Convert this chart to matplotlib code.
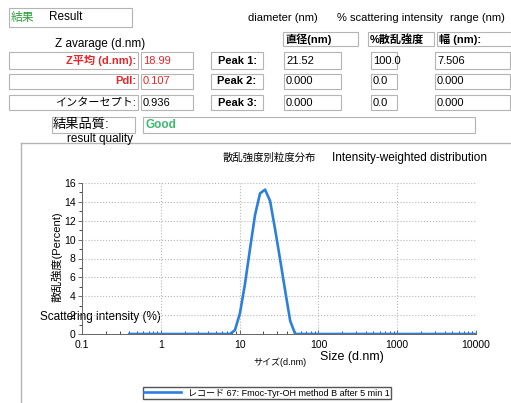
'''
Recreates a DLS size-distribution report (intensity-weighted).
'''

import matplotlib
matplotlib.use('Agg')
from matplotlib import pyplot as plt
from matplotlib.patches import Rectangle
from matplotlib.ticker import LogLocator, MultipleLocator, FixedLocator

###############
#  CONSTANTS  #
###############

FONTS = ['Liberation Sans', 'Noto Sans CJK JP', 'DejaVu Sans']
W, H = 511, 403
RED = '#e8262a'
GREEN_GOOD = '#3cba6e'
GREEN_TITLE = '#2a9d3a'
BOX_EDGE = '#b4b4b4'
LINE_BLUE = '#2b80dd'

# data
sizes = [0.4, 7.531, 8.721, 10.1, 11.7, 13.54, 15.69, 18.17, 21.04,
         24.36, 28.21, 32.67, 37.84, 43.82, 50.75, 10000]
intensity = [0.0, 0.0, 0.4, 2.2, 5.3, 9.0, 12.6, 14.9, 15.3,
             14.1, 11.1, 7.9, 4.6, 1.4, 0.0, 0.0]

x_ticks = [0.1, 1, 10, 100, 1000, 10000]
x_tick_labels = ['0.1', '1', '10', '100', '1000', '10000']
y_ticks = [0, 2, 4, 6, 8, 10, 12, 14, 16]

row_labels = ['Z平均 (d.nm):', 'PdI:', 'インターセプト:']
row_values = ['18.99', '0.107', '0.936']
peak_labels = ['Peak 1:', 'Peak 2:', 'Peak 3:']
peak_diameter = ['21.52', '0.000', '0.000']
peak_intensity = ['100.0', '0.0', '0.0']
peak_width = ['7.506', '0.000', '0.000']
legend_label = 'レコード 67: Fmoc-Tyr-OH method B after 5 min 1'

plt.rcParams['font.family'] = FONTS


###############
#   UTILS     #
###############

def box(ax, x0, y0, x1, y1):
    ax.add_patch(Rectangle((x0, y0), x1 - x0, y1 - y0, facecolor='white',
                           edgecolor=BOX_EDGE, lw=0.8))


def txt(ax, x, y, s, size=8, **kw):
    ax.text(x, y, s, fontsize=size, va='center', **kw)


fig = plt.figure(figsize=(W / 100, H / 100), dpi=100)
bg = fig.add_axes([0, 0, 1, 1])
bg.set_xlim(0, W)
bg.set_ylim(H, 0)
bg.axis('off')

# header
box(bg, 9, 8, 132, 27)
txt(bg, 11, 17.5, '結果', size=8.5, color=GREEN_TITLE)
txt(bg, 49, 17.5, 'Result', size=8.5)
txt(bg, 248, 18, 'diameter (nm)')
txt(bg, 337, 18, '% scattering intensity')
txt(bg, 450, 18, 'range (nm)')
txt(bg, 55, 44, 'Z avarage (d.nm)', size=8.5)

# column headers
for x0, x1, s in [(283, 358, '直径(nm)'), (368, 434, '%散乱強度'), (437, 511, '幅 (nm):')]:
    box(bg, x0, 32, x1, 46)
    txt(bg, x0 + 2, 39.5, s, fontweight='bold')

# rows
rows_y = [(52, 69), (74, 89), (95, 110)]
for i, (y0, y1) in enumerate(rows_y):
    yc = (y0 + y1) / 2
    colour = RED if i < 2 else 'black'
    weight = 'bold' if i < 2 else 'normal'
    box(bg, 9, y0, 138, y1)
    txt(bg, 136, yc, row_labels[i], ha='right', color=colour, fontweight=weight)
    box(bg, 141, y0, 193, y1)
    txt(bg, 143, yc, row_values[i], color=colour)
    box(bg, 211, y0, 263, y1)
    txt(bg, 237, yc, peak_labels[i], ha='center', fontweight='bold')
    box(bg, 284, y0, 341, y1)
    txt(bg, 286, yc, peak_diameter[i])
    box(bg, 371, y0, 397, y1)
    txt(bg, 373, yc, peak_intensity[i])
    box(bg, 435, y0, 510, y1)
    txt(bg, 437, yc, peak_width[i])

# result quality
box(bg, 52, 117, 135, 133)
txt(bg, 53, 125, '結果品質:', size=9.5)
box(bg, 143, 117, 475, 133)
txt(bg, 145, 124.5, 'Good', size=8.5, color=GREEN_GOOD, fontweight='bold')
txt(bg, 67, 139, 'result quality', size=8.5)

# chart panel frame
bg.plot([21, 21], [143, H], color=BOX_EDGE, lw=1)
bg.plot([21, W], [143, 143], color=BOX_EDGE, lw=1)

# chart titles and labels
txt(bg, 223, 158, '散乱強度別粒度分布', size=7.5)
txt(bg, 332, 158, 'Intensity-weighted distribution', size=8.5)
bg.text(57, 257, '散乱強度(Percent)', fontsize=8, rotation=90, ha='center', va='center')
txt(bg, 40, 317, 'Scattering intensity (%)', size=8.5)
txt(bg, 253, 362, 'サイズ(d.nm)', size=6.5)
txt(bg, 320, 357, 'Size (d.nm)', size=9)

###############
#   CHART     #
###############

ax = fig.add_axes([82 / W, (H - 334) / H, 394 / W, 151 / H])
ax.patch.set_alpha(0)
ax.plot(sizes, intensity, color=LINE_BLUE, lw=1.9, label=legend_label,
        solid_joinstyle='round', zorder=3)
ax.set_xscale('log')
ax.set_xlim(0.1, 10000)
ax.set_ylim(0, 16)
ax.xaxis.set_major_locator(FixedLocator(x_ticks))
ax.set_xticklabels(x_tick_labels)
ax.xaxis.set_minor_locator(LogLocator(base=10, subs=range(2, 10)))
ax.xaxis.set_minor_formatter(plt.NullFormatter())
ax.set_yticks(y_ticks)
ax.yaxis.set_minor_locator(MultipleLocator(1))
ax.tick_params(labelsize=7.5, length=3, width=0.6, color='#555555', pad=1.5)
ax.tick_params(axis='x', which='both', direction='in', pad=4)
ax.tick_params(which='minor', length=2, width=0.5)
ax.grid(True, which='major', linestyle=':', color='#b8b8b8', lw=0.8)
for side in ('top', 'right'):
    ax.spines[side].set_visible(False)
for side in ('left', 'bottom'):
    ax.spines[side].set_color('#666666')
    ax.spines[side].set_linewidth(0.7)

fig.legend(loc='center', bbox_to_anchor=(267 / W, 1 - 393 / H), fontsize=6.5,
           frameon=True, fancybox=False, edgecolor='#555555', handlelength=4,
           borderpad=0.2, borderaxespad=0, framealpha=1)

fig.savefig('out.png', dpi=100)
